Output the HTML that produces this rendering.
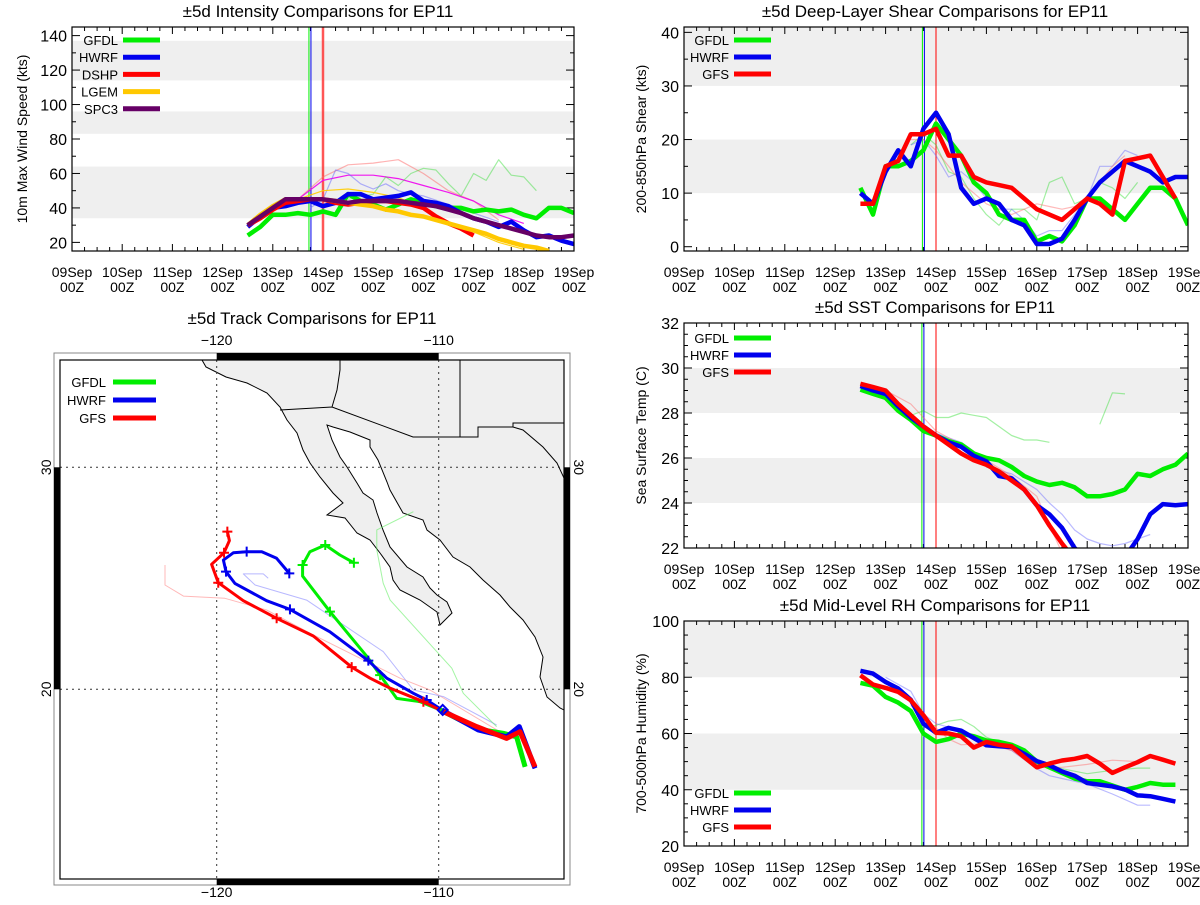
<!DOCTYPE html>
<html><head><meta charset="utf-8">
<style>
html,body{margin:0;padding:0;background:#fff;}
svg text{font-family:"Liberation Sans",sans-serif;fill:#000;}
</style></head>
<body>
<svg id="root" width="1200" height="900" viewBox="0 0 1200 900" xmlns="http://www.w3.org/2000/svg">
<defs>
<clipPath id="mapclip"><rect x="60" y="360" width="504" height="519"/></clipPath>
</defs>
<g id="map">
<text x="312" y="324" font-size="17" text-anchor="middle">±5d Track Comparisons for EP11</text>
<rect x="54" y="353" width="516" height="532" fill="none" stroke="#888" stroke-width="1"/>
<g clip-path="url(#mapclip)">
<path fill="#efefef" stroke="#000" stroke-width="1" d="M202,360 L206,367 L226,377 L247,383 L267,393 L280,407 L287,420 L297,433 L303,450 L310,463 L320,477 L333,493 L343,503 L327,515 L345,518 L357,533 L370,540 L380,553 L390,567 L393,580 L400,590 L420,600 L437,612 L440,625 L452,613 L447,602 L437,595 L430,588 L423,577 L407,567 L390,547 L383,530 L377,513 L373,500 L363,493 L357,483 L347,467 L340,457 L332,440 L327,425 L333,427 L350,432 L370,440 L370,447 L378,460 L387,482 L390,490 L403,513 L423,520 L427,530 L440,540 L453,557 L470,567 L483,580 L500,595 L510,607 L523,620 L535,637 L543,657 L540,677 L547,697 L560,708 L564,710 L564,360 Z"/>
<path fill="none" stroke="#000" stroke-width="1" d="M280,410 L332,407 L413,437 L478,437 L478,427 L513,427 L523,430 L543,447 L557,463 L564,478 M332,407 L337,390 L340,370 L340,360 M460,360 L460,437 M513,427 L513,423 L564,423"/>
</g>
<g id="grat"></g>
<g id="tracks" clip-path="url(#mapclip)"></g>
<rect x="60" y="360" width="504" height="519" fill="none" stroke="#000" stroke-width="1.2"/>
<g id="mapleg"></g>
</g>
<g id="plots"></g>
</svg>
<script>
const NS='http://www.w3.org/2000/svg';
const root=document.getElementById('root');
function mk(tag,attrs,parent){const e=document.createElementNS(NS,tag);for(const k in attrs)e.setAttribute(k,attrs[k]);(parent||root).appendChild(e);return e;}

// ---------------- data: time in days since 09Sep 00Z ----------------
const dayLabels=['09Sep','10Sep','11Sep','12Sep','13Sep','14Sep','15Sep','16Sep','17Sep','18Sep','19Sep'];
const tStart=3.5, tStep=0.25;
// Intensity (kts)
const intGFDL=[24,29,36,36,37,36,38,36,48,44,42,39,42,45,43,41,40,40,38,39,38,39,36,34,40,40,37];
const intHWRF=[29,35,40,41,43,44,41,43,48,48,45,46,47,49,44,43,41,37,34,32,29,32,27,23,24,21,19];
const intDSHP=[30,34,39,43,44,45,45,43,42,43,44,44,43,42,40,35,31,28,24];
const intLGEM=[30,36,41,45,45,45,45,44,43,42,41,39,38,36,35,33,31,29,27,25,22,20,18,17,15];
const intSPC3=[30,35,40,45,45,45,45,44,43,44,44,44,44,43,42,41,39,37,34,32,30,28,26,24,23,23,24];
const intThinPinkT=[4.5,5.0,5.5,6.0,6.5,7.0,7.5,8.0,8.5];
const intThinPink=[45,58,65,66,68,60,50,44,33];
const intThinMagT=[4.5,5.0,5.5,6.0,6.5,7.0,7.5,8.0,8.5,9.0];
const intThinMag=[45,56,59,59,57,53,49,44,36,31];
const intThinGreenT=[5.5,6.0,6.25,6.5,6.75,7.0,7.25,7.5,7.75,8.0,8.25,8.5,8.75,9.0,9.25];
const intThinGreen=[45,48,58,53,60,63,62,54,47,60,56,68,59,58,50];
const intThinBlueT=[4.75,5.0,5.25,5.5,5.75,6.0,6.25,6.5,6.75,7.0,7.5,8.0,8.5];
const intThinBlue=[40,45,62,60,54,51,54,50,48,47,42,37,32];
const intThinOrgT=[4.5,5.0,5.5,6.0,6.5,7.0,7.5,8.0,8.5,9.0];
const intThinOrg=[45,50,51,49,46,40,32,26,20,16];
// Shear (kts)
const shrGFDL=[11,6,15,15,16,18,23,20,17,12,10,6,5,5,1,2,1,4,9,9,7,5,8,11,11,9,4];
const shrHWRF=[10,8,14,18,15,22,25,21,11,8,9,8,5,4,0.5,0.5,1.5,5,9,12,14,16,15,14,12,13,13];
const shrGFS=[8,8,15,16,21,21,22,17,17,13,12,11.5,11,9,7,6,5,7,9,8,6,16,16.5,17,13,9];
const shrThinGT=[4.5,4.75,5.0,5.25,5.5,5.75,6.0,6.25,6.5,6.75,7.0,7.25,7.5,7.75,8.0,8.25,8.5,8.75,9.0];
const shrThinG=[19,21,19,14,13,9,6,4,7,7,5,12,13,8,9,12,11,9,12];
const shrThinBT=[4.5,4.75,5.0,5.25,5.5,5.75,6.0,6.25,6.5,6.75,7.0,7.25,7.5,7.75,8.0,8.25,8.5,8.75,9.0];
const shrThinB=[19,20,17,13,14,12,9,7,7,5,2,3,3,6,9,15,15,18,17];
const shrThinRT=[4.5,4.75,5.0,5.25,5.5,5.75,6.0,6.25,6.5,6.75,7.0,7.25,7.5,7.75,8.0,8.25,8.5,8.75];
const shrThinR=[20,20,18,15,12,10,8,7,6,7,8,7.5,7,7.5,9,12,15,17];
// SST (C)
const sstGFDL=[29.04,28.85,28.67,28.1,27.7,27.2,27.0,26.75,26.6,26.2,26.0,25.9,25.6,25.2,24.95,24.8,24.9,24.7,24.3,24.3,24.4,24.6,25.3,25.2,25.5,25.7,26.2];
const sstHWRF=[29.2,29.0,28.85,28.3,27.8,27.4,27.0,26.7,26.5,26.1,25.85,25.2,25.1,24.6,23.9,23.5,22.9,22.0,21.5,21.3,21.2,21.6,22.4,23.5,23.95,23.9,23.95];
const sstGFS=[29.3,29.15,29.0,28.4,27.9,27.4,27.0,26.6,26.2,25.9,25.7,25.4,25.0,24.6,23.9,23.0,22.2,21.5];
const sstThinGT=[4.5,4.75,5.0,5.25,5.5,5.75,6.0,6.25,6.5,6.75,7.0,7.25];
const sstThinG=[27.9,28.1,27.8,27.8,28.0,27.9,27.8,27.4,27.0,26.8,26.8,26.7];
const sstThinG2T=[8.25,8.5,8.75];
const sstThinG2=[27.5,28.9,28.85];
const sstThinBT=[4.5,5.0,5.5,5.75,6.0,6.5,7.0,7.25,7.5,7.75,8.0,8.25,8.5,8.75,9.0,9.25];
const sstThinB=[27.9,27.1,26.7,26.3,25.6,25.3,24.6,24.0,23.5,22.8,22.4,22.2,22.1,22.2,22.4,22.6];
const sstThinRT=[3.5,4.0,4.5,5.0,5.5,6.0,6.5,7.0,7.25,7.5];
const sstThinR=[29.3,29.0,28.4,27.2,26.6,25.9,25.2,24.3,23.0,21.8];
// RH (%)
const rhGFDL=[78,77,73,71,68,60,57,58,60,59,57.5,57,56,54,50,48,46,44,43,43,41.5,40,41,42.4,41.8,41.8];
const rhHWRF=[82.3,81.3,78.3,76,72,63.5,60.3,62,61,58.4,55.8,55.5,55.2,52.8,50.2,48.7,46.5,45,42.4,41.8,41.2,40.1,38,37.7,36.8,35.8];
const rhGFS=[80.7,77.4,76.2,74.8,71.8,66.5,60.3,60,59,55,57,56,55.4,51.6,48,49.3,50.4,51,52,49.3,46,48,49.8,52,50.7,49.3];
const rhThinGT=[4.5,4.75,5.0,5.25,5.5,5.75,6.0,6.5,7.0,7.5,8.0,8.5,9.0,9.25];
const rhThinG=[68,62,62.9,64.4,65,62.5,58.7,55,50.4,47.5,45.7,46.9,47.7,47.7];
const rhThinBT=[4.0,4.5,4.75,5.0,5.5,6.0,6.5,7.0,7.25,7.5,8.0,8.5,9.0,9.25];
const rhThinB=[80,75,67,63.5,61,57,54,47.5,45,44,42,38.5,34.5,34.5];
const rhThinRT=[4.5,5.0,5.25,5.5,6.0,6.5,7.0,7.5,8.0,8.5,9.0];
const rhThinR=[70,62,58,56,56.5,54,48,48,49,50.5,50];

// Tracks [lon,lat]
const trkGFS=[[-105.66,16.51],[-106.34,18.09],[-106.94,17.79],[-108.29,18.32],[-109.79,18.99],[-110.69,19.44],[-112.19,20.05],[-113.09,20.5],[-113.92,21.0],[-115.65,22.4],[-117.3,23.2],[-118.8,23.99],[-119.93,24.8],[-120.23,25.63],[-119.67,26.15],[-119.43,26.7],[-119.52,27.1]];
const trkGFSmarks=[5,8,10,12,14,16];
const trkHWRF=[[-105.66,16.44],[-106.37,18.32],[-106.94,17.86],[-108.22,18.17],[-109.86,19.07],[-110.54,19.52],[-111.14,19.82],[-112.34,20.5],[-113.17,21.29],[-114.9,22.59],[-116.7,23.6],[-117.75,23.99],[-119.18,24.77],[-119.58,25.3],[-119.7,25.82],[-119.25,26.15],[-118.65,26.2],[-117.97,26.2],[-117.3,25.9],[-116.73,25.22]];
const trkHWRFmarks=[5,8,10,13,16,19];
const trkGFDL=[[-106.11,16.51],[-106.49,17.86],[-107.09,18.02],[-108.2,18.2],[-109.94,19.07],[-110.84,19.44],[-111.89,19.59],[-112.64,20.64],[-113.17,21.4],[-114.9,23.5],[-116.13,25.1],[-116.13,25.6],[-115.8,26.2],[-115.11,26.5],[-114.45,26.05],[-113.82,25.7]];
const trkGFDLmarks=[7,9,11,13,15];
const trkThinR=[[-122.33,25.6],[-122.33,24.7],[-121.5,24.2],[-119.63,24.1],[-117.75,23.57],[-115.65,22.45],[-111.74,20.5],[-110.39,19.97],[-107.1,18.0]];
const trkThinB=[[-117.68,25.0],[-117.9,25.2],[-118.8,25.2],[-118.27,24.7],[-115.95,24.02],[-112.5,21.7],[-111.14,19.97],[-109.79,19.67],[-107.39,18.39]];
const trkThinG=[[-111.14,28.0],[-111.44,27.85],[-112.79,27.18],[-112.79,26.28],[-112.5,24.78],[-112.19,24.02],[-109.41,20.95],[-108.89,19.82],[-107.39,18.32]];
const stormPos=[-109.82,19.07];

// ---------------- time plot builder ----------------
function seq(arr){return arr.map((v,i)=>[tStart+i*tStep,v]);}
function zipT(t,v){return v.map((y,i)=>[t[i],y]);}
function timePlot(cfg){
  const g=mk('g',{},document.getElementById('plots'));
  
  
  const [x0,y0,x1,y1]=cfg.box;
  const X=t=>x0+(x1-x0)*t/10;
  const Y=v=>y1-(y1-y0)*(v-cfg.ymin)/(cfg.ymax-cfg.ymin);
  const cid='clip'+cfg.name;
  const cp=mk('clipPath',{id:cid},g);mk('rect',{x:x0,y:y0,width:x1-x0,height:y1-y0},cp);
  const title=mk('text',{x:cfg.titleX,y:y0-10,'font-size':17,'text-anchor':'middle'},g);
  title.textContent=cfg.title;
  
  
  cfg.bands.forEach(b=>{
    const r=mk('rect',{x:x0,y:Y(Math.min(b[1],cfg.ymax)),width:x1-x0,height:Y(Math.max(b[0],cfg.ymin))-Y(Math.min(b[1],cfg.ymax)),fill:'#efefef'},g);
    
    
  });
  const ax=mk('g',{stroke:'#000','stroke-width':1},g);
  
  
  for(let q=0;q<=40;q++){const t=q/4;const L=q%4===0?7:4;
    mk('line',{x1:X(t),x2:X(t),y1:y1,y2:y1-L},ax);mk('line',{x1:X(t),x2:X(t),y1:y0,y2:y0+L},ax);}
  for(let v=cfg.ymin0;v<=cfg.ymax+1e-6;v+=cfg.minor){const maj=Math.abs((v-cfg.ymin0)/cfg.major-Math.round((v-cfg.ymin0)/cfg.major))<1e-6;const L=maj?8:4;
    if(v<cfg.ymin-1e-6)continue;
    mk('line',{x1:x0,x2:x0+L,y1:Y(v),y2:Y(v)},ax);mk('line',{x1:x1,x2:x1-L,y1:Y(v),y2:Y(v)},ax);}
  dayLabels.forEach((d,i)=>{
    const t1=mk('text',{x:X(i),y:y1+26,'font-size':14,'text-anchor':'middle'},g);t1.textContent=d;
    
    
    const t2=mk('text',{x:X(i),y:y1+41,'font-size':14,'text-anchor':'middle'},g);t2.textContent='00Z';
    
    
  });
  cfg.ylabels.forEach(v=>{
    const t=mk('text',{x:x0-5,y:Y(v)+6,'font-size':16,'text-anchor':'end'},g);t.textContent=v;
    
    
  });
  const yt=mk('text',{x:0,y:0,'font-size':14,'text-anchor':'middle',transform:`translate(${cfg.ytitleX},${(y0+y1)/2}) rotate(-90)`},g);
  yt.textContent=cfg.ytitle;
  
  
  const pg=mk('g',{'clip-path':`url(#${cid})`},g);
  cfg.vlines.forEach(v=>{
    const l=mk('line',{x1:X(v.t),x2:X(v.t),y1:y0,y2:y1,stroke:v.c,'stroke-width':v.w||1,opacity:v.o||1},pg);
    
    
  });
  const line=(pts,c,w,o,name)=>{
    const p=mk('polyline',{points:pts.map(p=>X(p[0]).toFixed(1)+','+Y(p[1]).toFixed(1)).join(' '),fill:'none',stroke:c,'stroke-width':w,opacity:o,'stroke-linejoin':'round'},pg);
    
    
  };
  cfg.thin.forEach(s=>line(s.pts,s.c,1.2,s.o||0.45,'previous-forecast-line'));
  cfg.series.forEach(s=>line(s.pts,s.c,4.5,1,'series-'+s.n.toLowerCase()));
  mk('rect',{x:x0,y:y0,width:x1-x0,height:y1-y0,fill:'none',stroke:'#000','stroke-width':1.2},g);
  cfg.series.forEach((s,i)=>{
    const yy=cfg.leg[1]+i*cfg.leg[2];
    const lg=mk('g',{},g);
    
    
    const t=mk('text',{x:cfg.leg[0],y:yy+5,'font-size':13,'text-anchor':'end'},lg);t.textContent=s.n;
    mk('line',{x1:cfg.leg[0]+5,x2:cfg.leg[0]+42,y1:yy,y2:yy,stroke:s.c,'stroke-width':5},lg);
  });
}
const GR='#00ee00',BL='#0000ee',RD='#ff0000';
timePlot({name:'intensity-chart',title:'±5d Intensity Comparisons for EP11',titleX:318,box:[72,27,574,251],ymin:15,ymax:145,ymin0:20,major:20,minor:10,
  ylabels:[20,40,60,80,100,120,140],ytitle:'10m Max Wind Speed (kts)',ytitleX:27,bands:[[34,64],[83,96],[114,137]],
  vlines:[{t:4.72,c:GR},{t:4.76,c:BL},{t:5.0,c:'#ff8888',w:3,o:0.7},{t:5.0,c:RD}],
  thin:[{pts:zipT(intThinPinkT,intThinPink),c:'#ff6666',o:0.5},{pts:zipT(intThinMagT,intThinMag),c:'#ee00ee',o:0.9},{pts:zipT(intThinGreenT,intThinGreen),c:'#33dd33',o:0.45},{pts:zipT(intThinBlueT,intThinBlue),c:'#6666ff',o:0.5},{pts:zipT(intThinOrgT,intThinOrg),c:'#ffcc00',o:0.9}],
  series:[{n:'GFDL',c:GR,pts:seq(intGFDL)},{n:'HWRF',c:BL,pts:seq(intHWRF)},{n:'DSHP',c:RD,pts:seq(intDSHP)},{n:'LGEM',c:'#ffc800',pts:seq(intLGEM)},{n:'SPC3',c:'#660066',pts:seq(intSPC3)}],
  leg:[118,40,17.2]});
timePlot({name:'shear-chart',title:'±5d Deep-Layer Shear Comparisons for EP11',titleX:935,box:[684,27,1188,251],ymin:-0.8,ymax:41,ymin0:0,major:10,minor:5,
  ylabels:[0,10,20,30,40],ytitle:'200-850hPa Shear (kts)',ytitleX:646,bands:[[10,20],[30,45]],
  vlines:[{t:4.73,c:GR},{t:4.77,c:BL},{t:5.0,c:RD}],
  thin:[{pts:zipT(shrThinGT,shrThinG),c:'#33dd33'},{pts:zipT(shrThinBT,shrThinB),c:'#6666ff'},{pts:zipT(shrThinRT,shrThinR),c:'#ff6666'}],
  series:[{n:'GFDL',c:GR,pts:seq(shrGFDL)},{n:'HWRF',c:BL,pts:seq(shrHWRF)},{n:'GFS',c:RD,pts:seq(shrGFS)}],
  leg:[729,40,17]});
timePlot({name:'sst-chart',title:'±5d SST Comparisons for EP11',titleX:935,box:[684,323,1188,548],ymin:22,ymax:32,ymin0:22,major:2,minor:0.5,
  ylabels:[22,24,26,28,30,32],ytitle:'Sea Surface Temp (C)',ytitleX:646,bands:[[24,26],[28,30]],
  vlines:[{t:4.72,c:GR},{t:4.76,c:BL},{t:5.0,c:RD}],
  thin:[{pts:zipT(sstThinGT,sstThinG),c:'#33dd33'},{pts:zipT(sstThinG2T,sstThinG2),c:'#33dd33'},{pts:zipT(sstThinBT,sstThinB),c:'#6666ff'},{pts:zipT(sstThinRT,sstThinR),c:'#ff6666'}],
  series:[{n:'GFDL',c:GR,pts:seq(sstGFDL)},{n:'HWRF',c:BL,pts:seq(sstHWRF)},{n:'GFS',c:RD,pts:seq(sstGFS)}],
  leg:[729,338,17]});
timePlot({name:'rh-chart',title:'±5d Mid-Level RH Comparisons for EP11',titleX:935,box:[684,621,1188,846],ymin:20,ymax:100,ymin0:20,major:20,minor:5,
  ylabels:[20,40,60,80,100],ytitle:'700-500hPa Humidity (%)',ytitleX:646,bands:[[40,60],[80,100]],
  vlines:[{t:4.72,c:GR},{t:4.76,c:BL},{t:5.0,c:RD}],
  thin:[{pts:zipT(rhThinGT,rhThinG),c:'#33dd33'},{pts:zipT(rhThinBT,rhThinB),c:'#6666ff'},{pts:zipT(rhThinRT,rhThinR),c:'#ff6666'}],
  series:[{n:'GFDL',c:GR,pts:seq(rhGFDL)},{n:'HWRF',c:BL,pts:seq(rhHWRF)},{n:'GFS',c:RD,pts:seq(rhGFS)}],
  leg:[729,793,17]});

// ---------------- map ----------------
const LX=lon=>438.7+(lon+110)*22.2;
const LY=lat=>467.3-(lat-30)*22.2;
const grat=document.getElementById('grat');
[-120,-110].forEach(lon=>{
  const l=mk('line',{x1:LX(lon),x2:LX(lon),y1:360,y2:879,stroke:'#333','stroke-width':1,'stroke-dasharray':'2,4'},grat);
  
  
  [345,897].forEach(y=>{const t=mk('text',{x:LX(lon),y:y,'font-size':14,'text-anchor':'middle'},grat);t.textContent=String(lon).replace('-','−');
    
    });
});
[30,20].forEach(lat=>{
  const l=mk('line',{x1:60,x2:564,y1:LY(lat),y2:LY(lat),stroke:'#333','stroke-width':1,'stroke-dasharray':'2,4'},grat);
  
  
  const t1=mk('text',{x:0,y:0,'font-size':14,'text-anchor':'middle',transform:`translate(51,${LY(lat)}) rotate(-90)`},grat);t1.textContent=lat;
  
  
  const t2=mk('text',{x:0,y:0,'font-size':14,'text-anchor':'middle',transform:`translate(574,${LY(lat)}) rotate(90)`},grat);t2.textContent=lat;
  
  
});
mk('rect',{x:LX(-120),y:353,width:LX(-110)-LX(-120),height:7,fill:'#000'},grat);
mk('rect',{x:LX(-120),y:879,width:LX(-110)-LX(-120),height:6,fill:'#000'},grat);
mk('rect',{x:54,y:LY(30),width:6,height:LY(20)-LY(30),fill:'#000'},grat);
mk('rect',{x:564,y:LY(30),width:6,height:LY(20)-LY(30),fill:'#000'},grat);

const tg=document.getElementById('tracks');
function track(pts,c,w,o,name){
  const p=mk('polyline',{points:pts.map(p=>LX(p[0]).toFixed(1)+','+LY(p[1]).toFixed(1)).join(' '),fill:'none',stroke:c,'stroke-width':w,opacity:o,'stroke-linejoin':'round'},tg);
  
  
}
function marks(pts,idx,c){
  idx.forEach(i=>{const x=LX(pts[i][0]),y=LY(pts[i][1]);
    const m=mk('path',{d:`M${x-5},${y}H${x+5}M${x},${y-5}V${y+5}`,stroke:c,'stroke-width':2},tg);
    
    });
}
track(trkThinR,'#ff8888',1,0.6,'previous-track-gfs');
track(trkThinB,'#8888ff',1,0.6,'previous-track-hwrf');
track(trkThinG,'#66ee66',1,0.6,'previous-track-gfdl');
track(trkGFDL,GR,3,1,'track-gfdl');marks(trkGFDL,trkGFDLmarks,GR);
track(trkHWRF,BL,3,1,'track-hwrf');marks(trkHWRF,trkHWRFmarks,BL);
track(trkGFS,RD,3,1,'track-gfs');marks(trkGFS,trkGFSmarks,RD);
track(trkGFDL.slice(0,5),GR,5,1,'past-track-gfdl');
track(trkHWRF.slice(0,5),BL,5,1,'past-track-hwrf');
track(trkGFS.slice(0,5),RD,5,1,'past-track-gfs');
{const x=LX(stormPos[0]),y=LY(stormPos[1]);
const d=mk('path',{d:`M${x},${y-5}L${x+5},${y}L${x},${y+5}L${x-5},${y}Z`,fill:'none',stroke:BL,'stroke-width':2},tg);

}
const ml=document.getElementById('mapleg');
[['GFDL',GR],['HWRF',BL],['GFS',RD]].forEach((s,i)=>{
  const yy=382+i*18;
  const lg=mk('g',{},ml);
  
  
  const t=mk('text',{x:106,y:yy+5,'font-size':13,'text-anchor':'end'},lg);t.textContent=s[0];
  mk('line',{x1:113,x2:156,y1:yy,y2:yy,stroke:s[1],'stroke-width':5},lg);
});
</script>
</body></html>
